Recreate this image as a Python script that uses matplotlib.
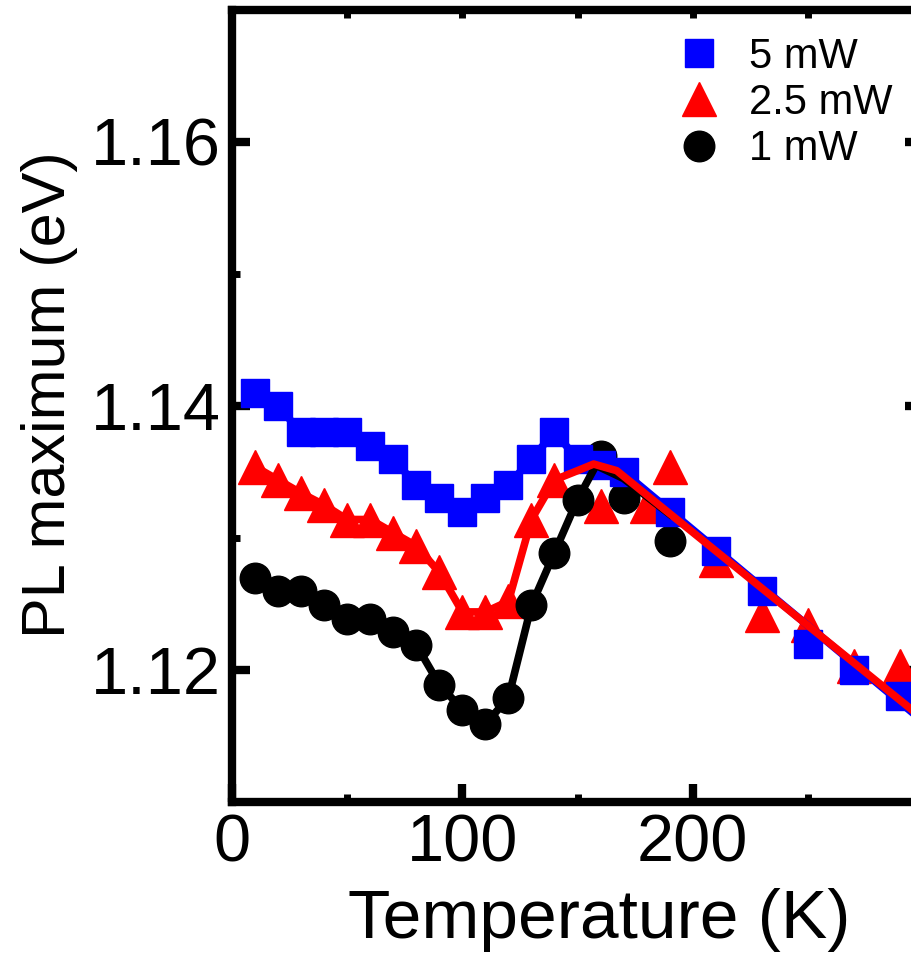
import matplotlib
matplotlib.use('Agg')
import matplotlib.pyplot as plt
from matplotlib.lines import Line2D

plt.rcParams['font.family'] = ['Liberation Sans', 'DejaVu Sans']

#data: temperature (K) and PL maximum (eV)
temp_5mw = [10, 20, 30, 40, 50, 60, 70, 80, 90, 100, 110, 120, 130, 140, 150, 160, 170,
            190, 210, 230, 250, 270, 290]
pl_5mw = [1.1410, 1.1400, 1.1380, 1.1380, 1.1380, 1.1370, 1.1360, 1.1340, 1.1330, 1.1320,
          1.1330, 1.1340, 1.1360, 1.1380, 1.1360, 1.1355, 1.1350,
          1.1320, 1.1290, 1.1260, 1.1220, 1.1200, 1.1180]

temp_25mw = [10, 20, 30, 40, 50, 60, 70, 80, 90, 100, 110, 120, 130, 140, 160, 180, 190,
             210, 230, 250, 270, 290]
pl_25mw = [1.1354, 1.1344, 1.1334, 1.1325, 1.1314, 1.1314, 1.1304, 1.1294, 1.1274, 1.1244,
           1.1244, 1.1252, 1.1314, 1.1344, 1.1324, 1.1324, 1.1354,
           1.1283, 1.1242, 1.1234, 1.1203, 1.1203]

temp_1mw = [10, 20, 30, 40, 50, 60, 70, 80, 90, 100, 110, 120, 130, 140, 150, 160, 170, 190]
pl_1mw = [1.1270, 1.1260, 1.1260, 1.1249, 1.1239, 1.1239, 1.1229, 1.1219, 1.1189, 1.1170,
          1.1159, 1.1179, 1.1249, 1.1289, 1.1329, 1.1362, 1.1330, 1.1298]

#guide lines drawn through the data
line_temp_5mw = temp_5mw[:17] + [300]
line_pl_5mw = pl_5mw[:17] + [1.1161]
line_temp_25mw = temp_25mw[:14] + [150, 157, 167, 300]
line_pl_25mw = pl_25mw[:14] + [1.1351, 1.1356, 1.1351, 1.1163]
line_temp_1mw = temp_1mw[:15] + [158, 170, 190]
line_pl_1mw = pl_1mw[:15] + [1.1355, 1.1345, 1.1318]

labels = ['5 mW', '2.5 mW', '1 mW']

fig = plt.figure(figsize=(9.12, 9.6), dpi=100)
ax = fig.add_axes([0.2544, 0.1646, 0.7577, 0.825])

#markers
ax.plot(temp_25mw, pl_25mw, linestyle='none', marker='^', ms=25, color='red', zorder=2)
ax.plot(temp_1mw, pl_1mw, linestyle='none', marker='o', ms=22, color='black', zorder=3)
ax.plot(temp_5mw, pl_5mw, linestyle='none', marker='s', ms=20, color='blue', zorder=4)

#lines
ax.plot(line_temp_1mw, line_pl_1mw, color='black', lw=5.5, zorder=5)
ax.plot(line_temp_5mw, line_pl_5mw, color='blue', lw=5.5, zorder=6)
ax.plot(line_temp_25mw, line_pl_25mw, color='red', lw=5.5, zorder=7)

ax.set_xlim(0, 300)
ax.set_ylim(1.11, 1.17)
ax.set_xticks([0, 100, 200])
ax.set_xticks([50, 150, 250], minor=True)
ax.set_yticks([1.12, 1.14, 1.16])
ax.set_yticklabels(['1.12', '1.14', '1.16'])
ax.set_yticks([1.11, 1.13, 1.15, 1.17], minor=True)

for s in ax.spines.values():
    s.set_linewidth(6)

ax.tick_params(which='major', direction='in', length=13, width=6, labelsize=48, pad=8,
               right=True, top=False)
ax.tick_params(which='minor', direction='in', length=6, width=5, right=True, top=False)

#short ticks along the top
top = ax.secondary_xaxis('top')
top.set_xticks([0, 50, 100, 150, 200, 250, 300])
top.tick_params(direction='in', length=6, width=5, labeltop=False)
top.spines['top'].set_visible(False)

ax.set_xlabel('Temperature (K)', fontsize=50)
ax.xaxis.set_label_coords(0.532, -0.149)
ax.xaxis.label.set_verticalalignment('center')
ax.set_ylabel('PL maximum (eV)', fontsize=44)
ax.yaxis.set_label_coords(-0.264, 0.514)
ax.yaxis.label.set_verticalalignment('center')

handles = [Line2D([], [], linestyle='none', marker='s', ms=20, color='blue'),
           Line2D([], [], linestyle='none', marker='^', ms=25, color='red'),
           Line2D([], [], linestyle='none', marker='o', ms=22, color='black')]
ax.legend(handles, labels, loc='upper left', bbox_to_anchor=(0.598, 1.003), frameon=False,
          fontsize=30, handlelength=1.2, handletextpad=0.6, labelspacing=0.15,
          borderpad=0.2)

fig.savefig('out.png', dpi=100)
